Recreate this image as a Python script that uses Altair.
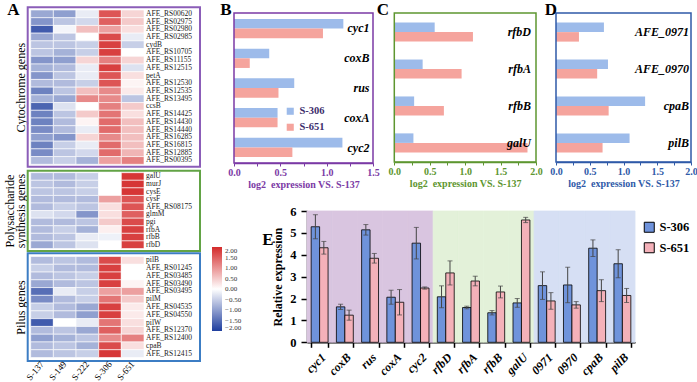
import altair as alt
import pandas as pd

W, H = 697, 382
SERIF = "Liberation Serif"

# ---------------- data ----------------
SAMPLES = ["S-137", "S-149", "S-222", "S-306", "S-651"]
SERIES = ["S-306", "S-651"]

CYT_GENES = ["AFE_RS00620", "AFE_RS02975", "AFE_RS02980", "AFE_RS02985", "cydB",
             "AFE_RS10705", "AFE_RS11155", "AFE_RS12515", "petA", "AFE_RS12530",
             "AFE_RS12535", "AFE_RS13495", "ccsB", "AFE_RS14425", "AFE_RS14430",
             "AFE_RS14440", "AFE_RS16285", "AFE_RS16815", "AFE_RS12885", "AFE_RS00395"]
CYT_S137 = [-0.9, -1.1, -1.7, -0.9, -0.6, -0.6, -1.1, -0.8, -1.1, -0.7, -1.3, -0.8, -1.6, -1.3, -1.3, -1.2, -1.0, -1.3, -1.2, -0.7]
CYT_S149 = [-1.0, -0.6, -0.1, -0.6, -0.6, -0.8, -1.0, -0.7, -0.6, -0.7, -0.6, -0.9, -0.3, -0.6, -0.7, -0.7, -1.1, -0.5, -0.6, -0.5]
CYT_S222 = [-0.2, -0.4, 0.6, 0.0, -0.5, -0.5, 0.4, -0.2, -0.2, -0.5, 0.6, 1.1, 0.0, 0.5, 0.1, -0.2, 0.4, -0.2, -0.4, -0.8]
CYT_S306 = [1.6, 1.5, 0.9, 1.7, 1.8, 1.8, 1.2, 1.8, 1.6, 1.6, 1.1, 1.1, 1.2, 1.3, 1.4, 1.4, 1.1, 1.4, 1.4, 0.9]
CYT_S651 = [0.4, 0.5, 0.3, -0.2, -0.5, 0.0, 0.4, -0.3, 0.3, 0.1, 0.2, -0.6, 0.5, 0.3, 0.6, 0.6, 0.6, 0.6, 0.7, 1.2]

POLY_GENES = ["galU", "murJ", "cysE", "cysF", "AFE_RS08175", "glmM", "pgi", "rfbA", "rfbB", "rfbD"]
POLY_S137 = [-0.7, -0.6, -0.6, -0.7, -0.7, -0.3, -0.7, -0.7, -0.7, -0.9]
POLY_S149 = [-0.7, -0.7, -0.6, -0.7, -0.5, -0.4, -0.7, -0.5, -0.6, -0.6]
POLY_S222 = [-0.5, -0.5, -0.5, -0.7, -0.6, -1.1, -0.6, -0.8, -0.2, -0.3]
POLY_S306 = [0.0, 0.0, 0.0, 0.9, 0.3, 0.3, 0.5, 0.15, -0.15, 0.0]
POLY_S651 = [1.9, 1.9, 1.9, 1.6, 1.6, 1.5, 1.7, 1.8, 1.8, 1.8]

PIL_GENES = ["pilB", "AFE_RS01245", "AFE_RS03485", "AFE_RS03490", "AFE_RS03495", "pilM",
             "AFE_RS04535", "AFE_RS04550", "pilW", "AFE_RS12370", "AFE_RS12400", "cpaB", "AFE_RS12415"]
PIL_S137 = [-0.7, -0.5, -0.7, -0.9, -1.5, -1.2, -0.5, -0.5, -1.7, -0.7, -1.0, -0.7, -0.7]
PIL_S149 = [-0.6, -0.7, -0.6, -0.7, -0.2, -0.7, -0.7, -0.7, 0.0, -0.6, -0.8, -0.6, -0.6]
PIL_S222 = [-0.7, -0.7, -0.5, -0.6, -0.5, -0.5, -0.9, -1.0, -0.2, -0.9, -0.6, -0.8, -0.5]
PIL_S306 = [1.7, 1.8, 1.8, 1.8, 0.9, 1.3, 1.8, 1.8, 1.3, 1.5, 1.1, 1.7, 1.9]
PIL_S651 = [0.3, 0.0, 0.0, 0.1, 0.9, 0.5, 0.2, 0.2, 0.3, 0.4, 1.2, 0.3, -0.2]

HEAT_LEGEND_VALUES = [2, 1.5, 1, 0.5, 0, -0.5, -1, -1.5, -2]

B_GENES = ["cyc1", "coxB", "rus", "coxA", "cyc2"]
B_S306 = [1.18, 0.38, 0.65, 0.47, 1.17]
B_S651 = [0.96, 0.17, 0.48, 0.47, 0.63]
B_TICKS = [0, 0.25, 0.5, 0.75, 1, 1.25, 1.5]

C_GENES = ["rfbD", "rfbA", "rfbB", "galU"]
C_S306 = [0.57, 0.40, 0.28, 0.27]
C_S651 = [1.11, 0.95, 0.70, 1.88]

D_GENES = ["AFE_0971", "AFE_0970", "cpaB", "pilB"]
D_S306 = [0.71, 0.77, 1.32, 1.09]
D_S651 = [0.34, 0.61, 0.78, 0.69]
CD_TICKS = [0, 0.25, 0.5, 0.75, 1, 1.25, 1.5, 1.75, 2]

E_GENES = ["cyc1", "coxB", "rus", "coxA", "cyc2", "rfbD", "rfbA", "rfbB", "galU",
           "0971", "0970", "cpaB", "pilB"]
E_GROUP = ["cyt"] * 5 + ["poly"] * 4 + ["pilus"] * 4
E_S306 = [5.28, 1.62, 5.14, 2.06, 4.53, 2.08, 1.59, 1.35, 1.80, 2.59, 2.62, 4.30, 3.59]
E_S306_ERR = [0.55, 0.12, 0.24, 0.32, 0.72, 0.50, 0.06, 0.10, 0.20, 0.63, 0.81, 0.38, 0.64]
E_S651 = [4.32, 1.24, 3.84, 1.83, 2.48, 3.17, 2.80, 2.30, 5.59, 1.89, 1.71, 2.36, 2.14]
E_S651_ERR = [0.29, 0.23, 0.22, 0.58, 0.05, 0.55, 0.22, 0.27, 0.12, 0.38, 0.15, 0.50, 0.32]
E_YTICKS = [0, 1, 2, 3, 4, 5, 6]

# ---------------- styles ----------------
PURPLE = "#7B3AA5"
GREEN = "#5E9630"
NAVY = "#2F5AA8"
BOX_PURPLE = "#8B5DB8"
BOX_GREEN = "#62A345"
BOX_BLUE = "#3C7DC4"
LBLUE = "#9DBBEA"
SALMON = "#F5A49D"
EBLUE = "#6F93DB"
EPINK = "#F4B1B9"

ONE = pd.DataFrame({"k": [0]})


def unit_scale(a, b):
    return alt.Scale(domain=[0, 1], range=[a, b], nice=False, zero=False)


def frame(x0, x1, y0, y1, color, width):
    return alt.Chart(ONE).mark_rect(filled=False, stroke=color, strokeWidth=width).encode(
        x=alt.XDatum(0, type="quantitative", scale=unit_scale(x0, x1), axis=None),
        x2=alt.X2Datum(1),
        y=alt.YDatum(0, type="quantitative", scale=unit_scale(y0, y1), axis=None),
        y2=alt.Y2Datum(1),
    )


def letter(ch, x, y):
    return alt.Chart(ONE).mark_text(font=SERIF, fontSize=17, fontWeight="bold",
                                    align="center", baseline="middle", color="black").encode(
        x=alt.value(x), y=alt.value(y), text=alt.value(ch))


HEAT_SCALE = alt.Scale(domain=[-2, 0, 2], range=["#1F3E9E", "#FFFFFF", "#D42B2B"],
                       interpolate="rgb", clamp=True)
BOX_X0, BOX_X1 = 27.7, 200
CELL_X0, CELL_X1 = 30.7, 144


def heat(genes, cols, cell_y, box_y, color, title, legend=False, xlabels=False):
    recs = []
    for s, vals in zip(SAMPLES, cols):
        for g, v in zip(genes, vals):
            recs.append({"gene": g, "sample": s, "v": v})
    df = pd.DataFrame(recs)
    ys = alt.Scale(domain=genes, range=list(cell_y), paddingInner=0, paddingOuter=0)
    xs = alt.Scale(domain=SAMPLES, range=[CELL_X0, CELL_X1], paddingInner=0, paddingOuter=0)
    if xlabels:
        xax = alt.Axis(orient="bottom", offset=box_y[1] - H, domain=False, ticks=False,
                       labelAngle=-50, labelFont=SERIF, labelFontSize=9, labelColor="black",
                       labelPadding=1, title=None)
    else:
        xax = None
    if legend:
        leg = alt.Legend(orient="none", legendX=212, legendY=247, direction="vertical",
                         gradientLength=84, gradientThickness=10, values=HEAT_LEGEND_VALUES,
                         format=".2f", labelFont=SERIF, labelFontSize=7, labelColor="#333",
                         labelOffset=3, labelOverlap=False, title=None,
                         gradientStrokeWidth=0, padding=0)
    else:
        leg = None
    cells = alt.Chart(df).mark_rect(stroke="white", strokeWidth=0.6).encode(
        x=alt.X("sample:N", scale=xs, axis=xax),
        y=alt.Y("gene:N", scale=ys, axis=None),
        color=alt.Color("v:Q", scale=HEAT_SCALE, legend=leg),
    )
    labels = alt.Chart(pd.DataFrame({"gene": genes})).mark_text(
        align="left", baseline="middle", font=SERIF, fontSize=7.5, color="#222").encode(
        x=alt.XDatum(0.687, type="quantitative", scale=unit_scale(BOX_X0, BOX_X1), axis=None),
        y=alt.Y("gene:N", scale=ys,
                axis=alt.Axis(orient="left", offset=-BOX_X0, domain=False, ticks=False,
                              labels=False, title=title, titleFont=SERIF, titleFontSize=12,
                              titleFontWeight="normal", titleColor="black", titlePadding=0,
                              titleLineHeight=11)),
        text="gene:N",
    )
    box = frame(BOX_X0, BOX_X1, box_y[0], box_y[1], color, 2)
    return [cells, labels, box]


def hpanel(genes, v306, v651, x0, x1, y0, y1, ticks, color, pi, po, label_frac, legend=False):
    n = len(genes)
    df = pd.DataFrame({"gene": genes + genes,
                       "series": ["S-306"] * n + ["S-651"] * n,
                       "value": v306 + v651})
    xs = alt.Scale(domain=[0, ticks[-1]], range=[x0, x1], nice=False, zero=True)
    ys = alt.Scale(domain=genes, range=[y0, y1], paddingInner=pi, paddingOuter=po)
    xax = alt.Axis(orient="bottom", offset=y1 - H, values=ticks,
                   labelExpr="datum.value % 0.5 === 0 ? datum.label : ''",
                   labelFlush=False, labelOverlap=False, labelFont=SERIF, labelFontSize=10,
                   labelFontWeight="bold", labelColor=color, labelPadding=1,
                   tickColor=color, tickSize=3, tickWidth=1, domainColor=color, domainWidth=1.5,
                   title="log2\u00a0 expression VS. S-137", titleFont=SERIF, titleFontSize=10,
                   titleFontWeight="bold", titleColor=color, titlePadding=2)
    if legend:
        leg = alt.Legend(orient="none", legendX=285, legendY=106, title=None, symbolType="square",
                         symbolSize=50, symbolStrokeWidth=0, labelFont=SERIF, labelFontSize=10.5,
                         labelFontWeight="bold", labelColor="#3b2d6b", rowPadding=5, labelOffset=4,
                         padding=0)
    else:
        leg = None
    bars = alt.Chart(df).mark_bar().encode(
        x=alt.X("value:Q", scale=xs, axis=xax),
        y=alt.Y("gene:N", scale=ys, axis=None),
        yOffset=alt.YOffset("series:N", scale=alt.Scale(domain=SERIES)),
        color=alt.Color("series:N", scale=alt.Scale(domain=SERIES, range=[LBLUE, SALMON]), legend=leg),
    )
    labels = alt.Chart(pd.DataFrame({"gene": genes})).mark_text(
        align="right", baseline="middle", font=SERIF, fontSize=12, fontStyle="italic",
        fontWeight="bold", color="black").encode(
        x=alt.XDatum(label_frac, type="quantitative", scale=unit_scale(x0, x1), axis=None),
        y=alt.Y("gene:N", scale=ys, axis=None),
        text="gene:N",
    )
    box = frame(x0, x1, y0, y1, color, 1.5)
    return [bars, labels, box]


# ---------------- panel E ----------------
E_X0, E_X1, E_Y0, E_Y1 = 307, 635, 342.3, 211
e_df = pd.DataFrame({"gene": E_GENES + E_GENES,
                     "series": ["S-306"] * len(E_GENES) + ["S-651"] * len(E_GENES),
                     "value": E_S306 + E_S651,
                     "err": E_S306_ERR + E_S651_ERR})
bg_df = pd.DataFrame({"gene": E_GENES, "group": E_GROUP})

e_ys = alt.Scale(domain=[0, E_YTICKS[-1]], range=[E_Y0, E_Y1], nice=False, zero=True)
e_xs = alt.Scale(domain=E_GENES, range=[E_X0, E_X1], paddingInner=0.33, paddingOuter=0.165)
e_xs_bg = alt.Scale(domain=E_GENES, range=[E_X0, E_X1], paddingInner=0, paddingOuter=0)
grp_scale = alt.Scale(domain=["cyt", "poly", "pilus"], range=["#D9C5E0", "#E3F1D9", "#D6DFF4"])
off_scale = alt.Scale(domain=SERIES)

e_bg = alt.Chart(bg_df).transform_calculate(top=str(E_YTICKS[-1])).mark_bar(strokeWidth=0.8).encode(
    x=alt.X("gene:N", scale=e_xs_bg, axis=None),
    y=alt.Y("top:Q", scale=e_ys, axis=None),
    color=alt.Color("group:N", scale=grp_scale, legend=None),
    stroke=alt.Stroke("group:N", scale=grp_scale, legend=None),
)

e_xax = alt.Axis(orient="bottom", offset=E_Y0 - H, tickBand="extent", tickSize=5, tickWidth=1.5,
                 tickColor="black", domainColor="black", domainWidth=1.5, labelAngle=-45,
                 labelFont=SERIF, labelFontSize=12, labelFontStyle="italic", labelFontWeight="bold",
                 labelColor="black", labelPadding=4, title=None)
e_yax = alt.Axis(orient="left", offset=-E_X0, values=E_YTICKS, tickSize=6, tickWidth=1.5,
                 tickColor="black", domainColor="black", domainWidth=1.5, labelFont=SERIF,
                 labelFontSize=12.5, labelFontWeight="bold", labelColor="black", labelPadding=5,
                 title="Relative expression", titleFont=SERIF, titleFontSize=12,
                 titleFontWeight="bold", titleColor="black", titlePadding=5)
e_leg = alt.Legend(orient="none", legendX=643, legendY=221, title=None, symbolType="square",
                   symbolSize=100, symbolStrokeColor="black", symbolStrokeWidth=1,
                   labelFont=SERIF, labelFontSize=12.5, labelFontWeight="bold", labelColor="black",
                   rowPadding=5.5, labelOffset=4, padding=0)

e_bars = alt.Chart(e_df).mark_bar(stroke="black", strokeWidth=0.8).encode(
    x=alt.X("gene:N", scale=e_xs, axis=e_xax),
    xOffset=alt.XOffset("series:N", scale=off_scale),
    y=alt.Y("value:Q", scale=e_ys, axis=e_yax),
    color=alt.Color("series:N", scale=alt.Scale(domain=SERIES, range=[EBLUE, EPINK]), legend=e_leg),
)

e_err_base = alt.Chart(e_df).transform_calculate(
    lo="datum.value - datum.err", hi="datum.value + datum.err")
e_rule = e_err_base.mark_rule(color="#444", strokeWidth=1).encode(
    x=alt.X("gene:N", scale=e_xs, axis=None),
    xOffset=alt.XOffset("series:N", scale=off_scale),
    y=alt.Y("lo:Q", scale=e_ys, axis=None),
    y2="hi:Q",
)
e_cap_hi = e_err_base.mark_tick(color="#444", thickness=1, size=5).encode(
    x=alt.X("gene:N", scale=e_xs, axis=None),
    xOffset=alt.XOffset("series:N", scale=off_scale),
    y=alt.Y("hi:Q", scale=e_ys, axis=None),
)
e_cap_lo = e_err_base.mark_tick(color="#444", thickness=1, size=5).encode(
    x=alt.X("gene:N", scale=e_xs, axis=None),
    xOffset=alt.XOffset("series:N", scale=off_scale),
    y=alt.Y("lo:Q", scale=e_ys, axis=None),
)

# ---------------- assemble ----------------
layers = []
layers += heat(CYT_GENES, [CYT_S137, CYT_S149, CYT_S222, CYT_S306, CYT_S651],
               (10, 164.3), (7.3, 166.7), BOX_PURPLE, "Cytochrome genes", legend=True)
layers += heat(POLY_GENES, [POLY_S137, POLY_S149, POLY_S222, POLY_S306, POLY_S651],
               (172.7, 248.5), (170.7, 251), BOX_GREEN, ["Polysaccharide", "synthesis genes"])
layers += heat(PIL_GENES, [PIL_S137, PIL_S149, PIL_S222, PIL_S306, PIL_S651],
               (256.5, 357.5), (253.3, 361), BOX_BLUE, "Pilus genes", xlabels=True)
layers += hpanel(B_GENES, B_S306, B_S651, 234, 373, 13, 163, B_TICKS, PURPLE, 0.35, 0.2, 0.975, legend=True)
layers += hpanel(C_GENES, C_S306, C_S651, 394.3, 536, 13, 162, CD_TICKS, GREEN, 0.485, 0.26, 0.965)
layers += hpanel(D_GENES, D_S306, D_S651, 556, 691, 13, 162, CD_TICKS, NAVY, 0.485, 0.26, 0.985)
layers += [e_bg, e_bars, e_rule, e_cap_hi, e_cap_lo]
layers += [letter("A", 13.5, 10), letter("B", 226, 10), letter("C", 383, 10),
           letter("D", 551, 10), letter("E", 268, 240)]

chart = alt.layer(*layers).resolve_scale(
    x="independent", y="independent", color="independent", stroke="independent",
    xOffset="independent", yOffset="independent"
).resolve_axis(x="independent", y="independent").resolve_legend(
    color="independent", stroke="independent"
).properties(
    width=W, height=H, padding=0, background="white",
    autosize=alt.AutoSizeParams(type="none"),
).configure_view(stroke=None).configure_axis(grid=False, labelFont=SERIF, titleFont=SERIF)

chart.save("out.html", embed_options={"renderer": "svg", "actions": False})
